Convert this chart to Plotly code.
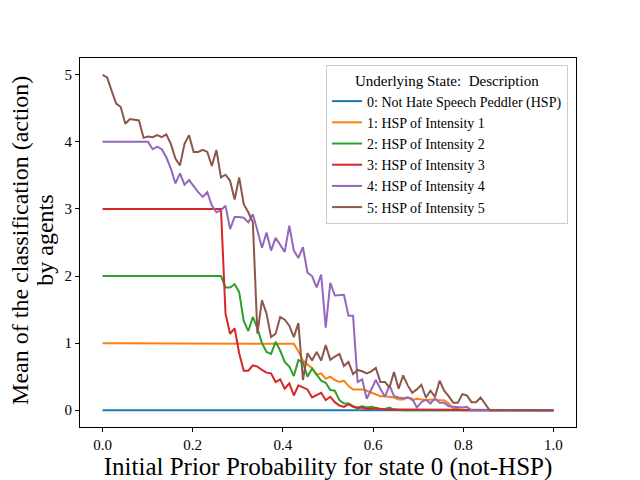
import numpy as np
import plotly.graph_objects as go

# prior probability grid (100 evaluation points between 0 and 1)
prior = np.linspace(0, 1, 100)

labels = [
    "0: Not Hate Speech Peddler (HSP)",
    "1: HSP of Intensity 1",
    "2: HSP of Intensity 2",
    "3: HSP of Intensity 3",
    "4: HSP of Intensity 4",
    "5: HSP of Intensity 5",
]
colors = ["#1f77b4", "#ff7f0e", "#2ca02c", "#d62728", "#9467bd", "#8c564b"]

state0 = [0.0] * 100

state1 = [1.0] * 41 + [
    0.99, 0.99, 0.88, 0.74, 0.68, 0.63, 0.53, 0.55, 0.47, 0.50,
    0.45, 0.42, 0.44, 0.36, 0.31, 0.31, 0.31, 0.29, 0.26, 0.23,
    0.21, 0.21, 0.20, 0.19, 0.16, 0.16, 0.19, 0.15, 0.17, 0.16,
    0.15, 0.16, 0.15, 0.15, 0.15, 0.10, 0.03, 0.01,
] + [0.0] * 21

state2 = [2.0] * 27 + [
    1.83, 1.83, 1.88, 1.76, 1.33, 1.18, 1.39, 1.22, 1.00, 0.87,
    0.84, 1.02, 0.89, 0.72, 0.65, 0.51, 0.75, 0.71, 0.50, 0.62,
    0.53, 0.44, 0.41, 0.30, 0.29, 0.15, 0.10, 0.10, 0.06, 0.04,
    0.06, 0.04, 0.05, 0.03, 0.02, 0.02, 0.04, 0.01,
] + [0.0] * 35

state3 = [3.0] * 27 + [
    1.44, 1.14, 1.22, 0.85, 0.59, 0.59, 0.67, 0.65, 0.60, 0.56,
    0.55, 0.42, 0.46, 0.32, 0.40, 0.22, 0.37, 0.34, 0.31, 0.19,
    0.22, 0.26, 0.15, 0.20, 0.12, 0.07, 0.05, 0.09, 0.05, 0.03,
    0.04, 0.02, 0.02, 0.03, 0.02, 0.01, 0.01, 0.01, 0.01,
] + [0.0] * 34

state4 = [4.0] * 11 + [
    3.89, 3.93, 3.89, 3.77, 3.60, 3.38, 3.53, 3.36, 3.43, 3.33,
    3.25, 3.18, 3.25, 3.05, 2.95, 2.98, 3.05, 2.70, 2.88, 2.88,
    2.87, 2.80, 2.92, 2.68, 2.42, 2.65, 2.38, 2.57, 2.46, 2.36,
    2.75, 2.38, 2.27, 2.43, 2.05, 2.00, 1.83, 2.02, 1.23, 1.90,
    1.71, 1.71, 1.72, 1.41, 1.41, 0.42, 0.46, 0.17, 0.31, 0.45,
    0.32, 0.20, 0.37, 0.21, 0.19, 0.18, 0.19, 0.17, 0.04, 0.12,
    0.16, 0.10, 0.18, 0.11, 0.11, 0.06, 0.05, 0.04, 0.04, 0.05,
] + [0.0] * 19

state5 = [
    5.00, 4.96, 4.76, 4.57, 4.52, 4.27, 4.34, 4.33, 4.32, 4.06,
    4.08, 4.07, 4.10, 4.07, 4.11, 3.97, 3.75, 3.65, 3.97, 4.10,
    3.85, 3.85, 3.88, 3.85, 3.64, 3.88, 3.47, 3.51, 3.42, 3.14,
    3.47, 3.07, 2.95, 2.80, 1.14, 1.64, 1.44, 1.09, 1.14, 1.39,
    1.35, 1.26, 1.09, 1.30, 0.45, 0.85, 0.74, 0.87, 0.74, 0.97,
    0.75, 0.80, 0.84, 0.66, 0.72, 0.54, 0.60, 0.58, 0.55, 0.58,
    0.63, 0.42, 0.42, 0.34, 0.57, 0.32, 0.52, 0.37, 0.26, 0.31,
    0.38, 0.19, 0.29, 0.20, 0.44, 0.29, 0.21, 0.11, 0.11, 0.24,
    0.22, 0.12, 0.12, 0.19, 0.09,
] + [0.0] * 15

series = [state0, state1, state2, state3, state4, state5]

ylabel_lines = ["Mean of the classification (action)", "by agents"]

font = "Liberation Serif"

fig = go.Figure()
for name, col, vals in zip(labels, colors, series):
    fig.add_trace(go.Scatter(x=prior, y=vals, mode="lines", name=name,
                             line=dict(color=col, width=2)))

axis_common = dict(showline=True, linecolor="black", linewidth=1, mirror=True,
                   ticks="outside", ticklen=4, tickcolor="black",
                   showgrid=False, zeroline=False, automargin=False,
                   tickfont=dict(family=font, size=15, color="black"))

# y label as two rotated lines (tighter line spacing than an axis title)
for text, xpos in zip(ylabel_lines, [-0.121, -0.071]):
    fig.add_annotation(text=text, textangle=-90, xref="paper", yref="paper",
                       x=xpos, y=0.507, xanchor="center", yanchor="middle",
                       showarrow=False, font=dict(family=font, size=24, color="black"))

# the page body adds an 8px offset, so margins are shifted to compensate
fig.update_layout(
    width=640, height=480,
    paper_bgcolor="white", plot_bgcolor="white",
    margin=dict(l=72, r=72, t=50, b=61),
    font=dict(family=font, color="black"),
    xaxis=dict(range=[-0.05, 1.05], tickvals=[0, 0.2, 0.4, 0.6, 0.8, 1.0],
               ticktext=["0.0", "0.2", "0.4", "0.6", "0.8", "1.0"],
               title=dict(text="Initial Prior Probability for state 0 (not-HSP)",
                          font=dict(family=font, size=25), standoff=2),
               **axis_common),
    yaxis=dict(range=[-0.25, 5.25], tickvals=[0, 1, 2, 3, 4, 5], **axis_common),
    legend=dict(x=0.984, y=0.981, xanchor="right", yanchor="top",
                bgcolor="rgba(255,255,255,0.8)", bordercolor="#cccccc", borderwidth=1,
                font=dict(family=font, size=14), itemwidth=30, tracegroupgap=0,
                title=dict(text="Underlying State:  Description", side="top center",
                           font=dict(family=font, size=15))),
)

fig.write_html("out.html")
